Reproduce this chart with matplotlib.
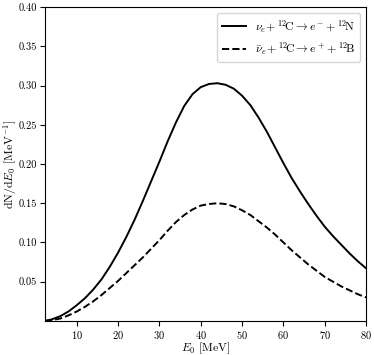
import numpy as np
import matplotlib
matplotlib.use("Agg")
import matplotlib.pyplot as plt

plt.rcParams['font.family'] = 'serif'
plt.rcParams['font.serif'] = ['cmr10']
plt.rcParams['mathtext.fontset'] = 'cm'
plt.rcParams['axes.formatter.use_mathtext'] = True
plt.rcParams['font.size'] = 9

# neutrino energy grid [MeV]
E0 = [2.3, 4, 6, 8, 10, 12, 14, 16, 18, 20, 22, 24, 26, 28, 30, 32, 34, 36, 38, 40,
      42, 44, 46, 48, 50, 52, 54, 56, 58, 60, 62, 64, 66, 68, 70, 72, 74, 76, 78, 80]

# nu_e + 12C -> e- + 12N
dN_nu = [0.000, 0.002, 0.006, 0.012, 0.020, 0.029, 0.040, 0.053, 0.069, 0.087,
         0.107, 0.129, 0.153, 0.178, 0.203, 0.229, 0.253, 0.274, 0.289, 0.298,
         0.302, 0.303, 0.301, 0.296, 0.287, 0.275, 0.259, 0.241, 0.221, 0.201,
         0.182, 0.165, 0.149, 0.134, 0.120, 0.108, 0.097, 0.086, 0.076, 0.067]

# anti-nu_e + 12C -> e+ + 12B
dN_nubar = [0.000, 0.001, 0.003, 0.007, 0.012, 0.018, 0.025, 0.033, 0.042, 0.051,
            0.061, 0.071, 0.081, 0.092, 0.103, 0.115, 0.126, 0.135, 0.142, 0.147,
            0.149, 0.150, 0.149, 0.146, 0.141, 0.135, 0.127, 0.119, 0.110, 0.100,
            0.090, 0.081, 0.072, 0.064, 0.056, 0.050, 0.044, 0.039, 0.034, 0.030]

fig = plt.figure(figsize=(3.74, 3.55), dpi=100)
ax = fig.add_axes([0.120, 0.096, 0.859, 0.884])

ax.plot(E0, dN_nu, 'k-', lw=1.4,
        label=r'$\nu_e\!+^{12}\!$C$\to e^-\!+^{12}\!$N')
ax.plot(E0, dN_nubar, 'k--', lw=1.4,
        label=r'$\bar{\nu}_e\!+^{12}\!$C$\to e^+\!+^{12}\!$B')

ax.set_xlim(E0[0], 80)
ax.set_ylim(0, 0.40)
ax.set_xticks([10, 20, 30, 40, 50, 60, 70, 80])
ax.set_yticks([0.05, 0.10, 0.15, 0.20, 0.25, 0.30, 0.35, 0.40])
ax.set_yticklabels([f"{v:.2f}" for v in ax.get_yticks()])
ax.tick_params(labelsize=7.5, length=3.5, pad=2)
ax.set_xlabel(r'$E_0$ [MeV]', fontsize=8.5, labelpad=0)
ax.set_ylabel(r'dN/d$E_0$ [MeV$^{-1}$]', fontsize=8.5, labelpad=0)
ax.legend(loc='upper right', fontsize=8.5)

fig.savefig("out.png", dpi=100)
